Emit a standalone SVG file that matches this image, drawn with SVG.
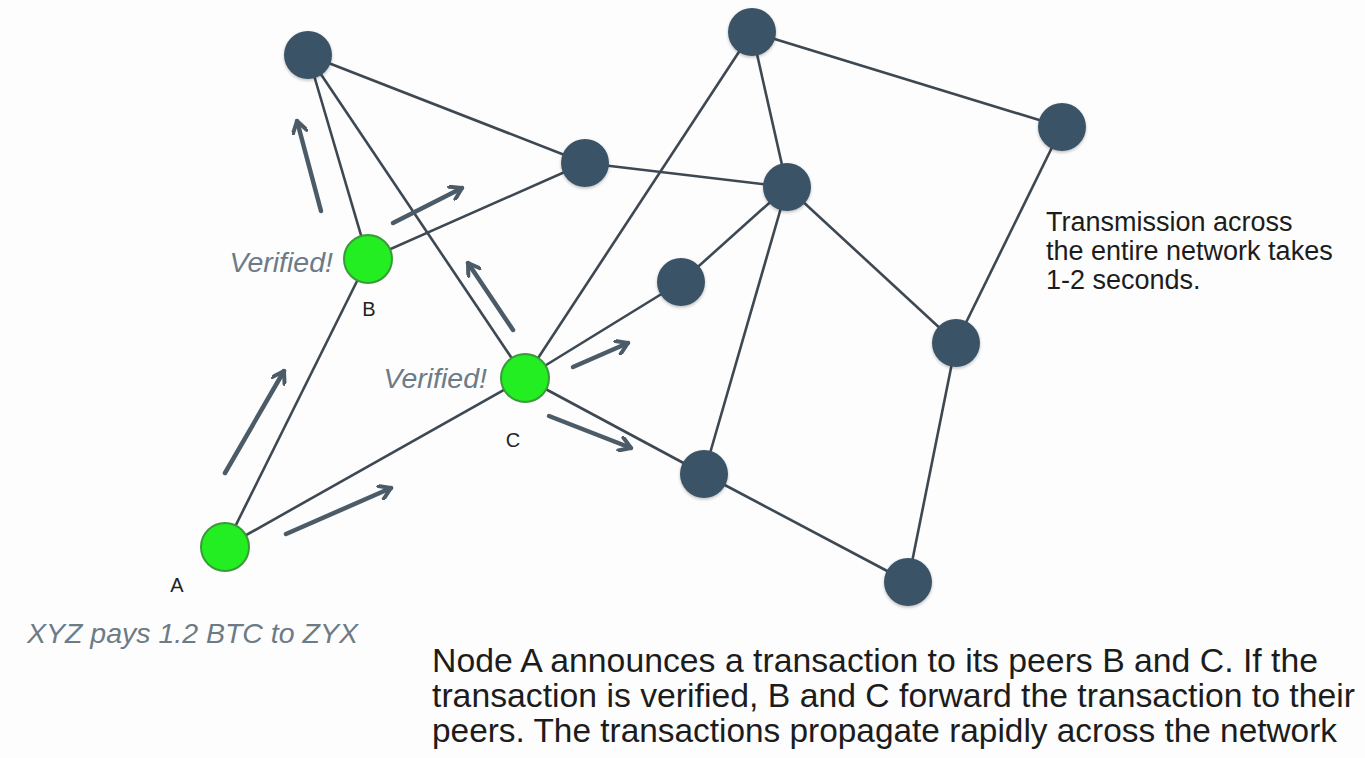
<svg xmlns="http://www.w3.org/2000/svg" width="1365" height="758" viewBox="0 0 1365 758">
  <defs>
    <marker id="chev" viewBox="0 0 16 16" refX="13" refY="8" markerWidth="16" markerHeight="16" markerUnits="userSpaceOnUse" orient="auto">
      <path d="M2,1 L13,8 L2,15" fill="none" stroke="#4b5b67" stroke-width="4" stroke-linecap="round" stroke-linejoin="round"/>
    </marker>
    <filter id="soft" x="-30%" y="-30%" width="160%" height="160%">
      <feDropShadow dx="0" dy="1.5" stdDeviation="1.5" flood-color="#000" flood-opacity="0.25"/>
    </filter>
    <style>
      .edge { stroke: #3d4852; stroke-width: 2.6; fill: none; }
      .flow { stroke: #4b5b67; stroke-width: 4.5; fill: none; stroke-linecap: round; marker-end: url(#chev); }
      .peer { fill: #3b5366; filter: url(#soft); }
      .ok { fill: #22ee22; stroke: #3a9a3a; stroke-width: 2; }
      .lbl { font-family: "Liberation Sans", Arial, sans-serif; font-size: 20px; fill: #222; text-anchor: middle; }
      .note { font-family: "Liberation Sans", Arial, sans-serif; font-style: italic; fill: #6c7b86; font-size: 28.5px; }
      .body { font-family: "Liberation Sans", Arial, sans-serif; fill: #1c1c1c; }
    </style>
  </defs>

  <rect width="1365" height="758" fill="#fdfdfd"/>

  <!-- peer links -->
  <g id="connectors">
    <line class="edge" x1="308" y1="55" x2="368" y2="259"/>
    <line class="edge" x1="308" y1="55" x2="525" y2="378"/>
    <line class="edge" x1="308" y1="55" x2="585" y2="163"/>
    <line class="edge" x1="752" y1="32" x2="1062" y2="127"/>
    <line class="edge" x1="752" y1="32" x2="787" y2="187"/>
    <line class="edge" x1="752" y1="32" x2="525" y2="378"/>
    <line class="edge" x1="1062" y1="127" x2="956" y2="343"/>
    <line class="edge" x1="585" y1="163" x2="368" y2="259"/>
    <line class="edge" x1="585" y1="163" x2="787" y2="187"/>
    <line class="edge" x1="787" y1="187" x2="681" y2="282"/>
    <line class="edge" x1="787" y1="187" x2="956" y2="343"/>
    <line class="edge" x1="787" y1="187" x2="704" y2="474"/>
    <line class="edge" x1="681" y1="282" x2="525" y2="378"/>
    <line class="edge" x1="525" y1="378" x2="704" y2="474"/>
    <line class="edge" x1="525" y1="378" x2="225" y2="547"/>
    <line class="edge" x1="368" y1="259" x2="225" y2="547"/>
    <line class="edge" x1="704" y1="474" x2="908" y2="582"/>
    <line class="edge" x1="956" y1="343" x2="908" y2="582"/>

    <!-- propagation arrows -->
    <line class="flow" x1="321" y1="211" x2="297" y2="121"/>
    <line class="flow" x1="393" y1="223" x2="462" y2="188"/>
    <line class="flow" x1="513" y1="330" x2="468" y2="263"/>
    <line class="flow" x1="225" y1="473" x2="284" y2="371"/>
    <line class="flow" x1="286" y1="534" x2="391" y2="488"/>
    <line class="flow" x1="573" y1="367" x2="628" y2="343"/>
    <line class="flow" x1="549" y1="416" x2="631" y2="448"/>
  </g>

  <!-- network nodes -->
  <g id="n1"><circle class="peer" cx="308" cy="55" r="24"/></g>
  <g id="n2"><circle class="peer" cx="752" cy="32" r="24"/></g>
  <g id="n3"><circle class="peer" cx="1062" cy="127" r="24"/></g>
  <g id="n4"><circle class="peer" cx="585" cy="163" r="24"/></g>
  <g id="n5"><circle class="peer" cx="787" cy="187" r="24"/></g>
  <g id="n6"><circle class="peer" cx="681" cy="282" r="24"/></g>
  <g id="n7"><circle class="peer" cx="956" cy="343" r="24"/></g>
  <g id="n8"><circle class="peer" cx="704" cy="474" r="24"/></g>
  <g id="n9"><circle class="peer" cx="908" cy="582" r="24"/></g>

  <g id="node-b">
    <circle class="ok" cx="368" cy="259" r="24"/>
    <text class="lbl" x="369" y="316">B</text>
    <text class="note" x="333" y="272" text-anchor="end">Verified!</text>
  </g>
  <g id="node-c">
    <circle class="ok" cx="525" cy="378" r="24"/>
    <text class="lbl" x="513" y="447">C</text>
    <text class="note" x="487" y="388" text-anchor="end">Verified!</text>
  </g>
  <g id="node-a">
    <circle class="ok" cx="225" cy="547" r="24"/>
    <text class="lbl" x="177" y="592">A</text>
    <text class="note" x="358" y="643" text-anchor="end">XYZ pays 1.2 BTC to ZYX</text>
  </g>

  <!-- captions -->
  <g id="caption-right" class="body" font-size="27">
    <text x="1046" y="231">Transmission across</text>
    <text x="1046" y="260">the entire network takes</text>
    <text x="1046" y="289">1-2 seconds.</text>
  </g>
  <g id="caption-bottom" class="body" font-size="33">
    <text x="432" y="672" textLength="886" lengthAdjust="spacingAndGlyphs">Node A announces a transaction to its peers B and C. If the</text>
    <text x="432" y="707" textLength="923" lengthAdjust="spacingAndGlyphs">transaction is verified, B and C forward the transaction to their</text>
    <text x="432" y="742" textLength="905" lengthAdjust="spacingAndGlyphs">peers. The transactions propagate rapidly across the network</text>
  </g>
</svg>
